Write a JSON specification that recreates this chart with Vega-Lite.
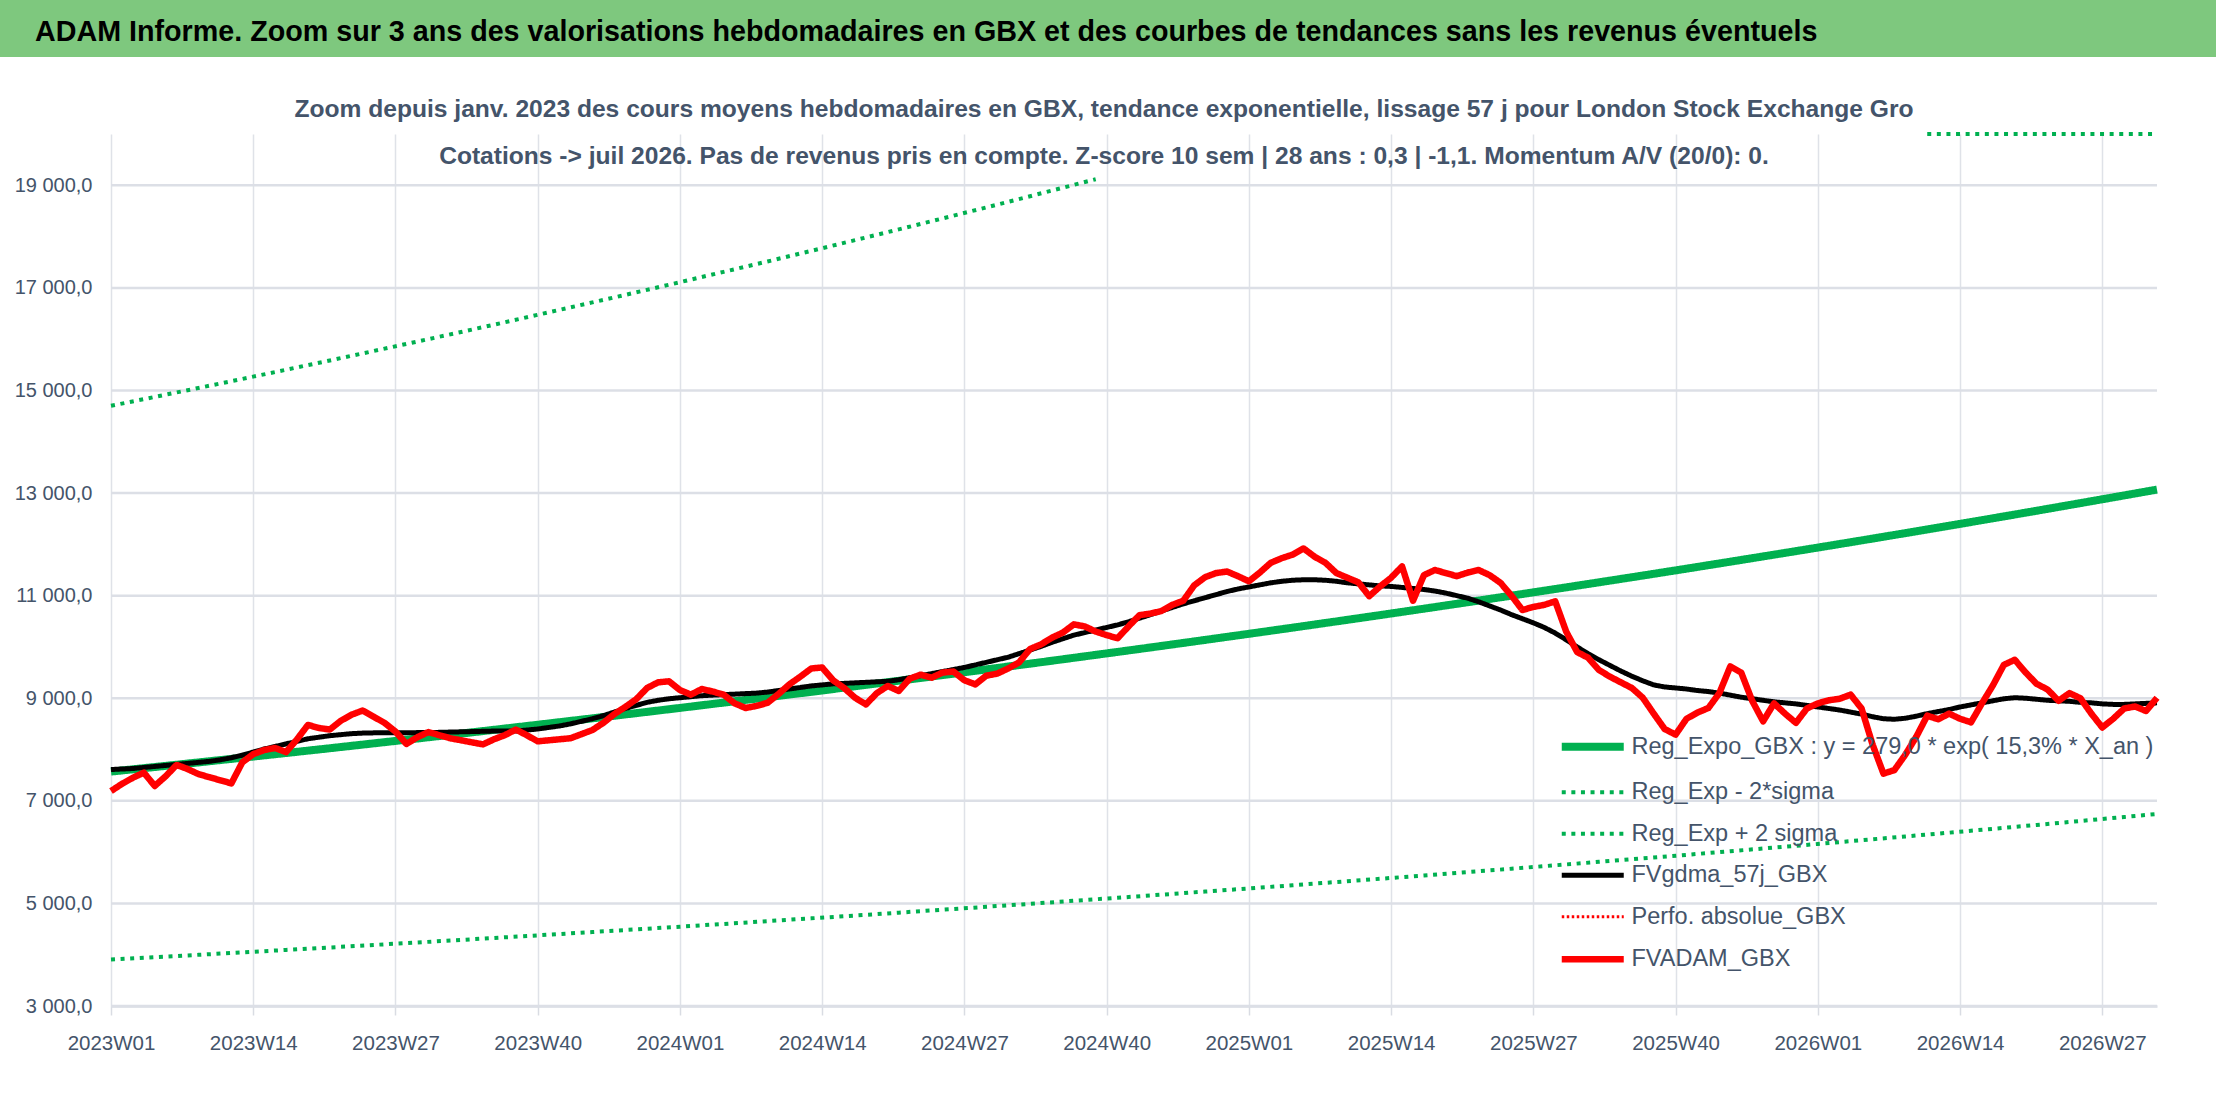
{
  "$schema": "https://vega.github.io/schema/vega-lite/v6.json",
  "background": "white",
  "padding": 0,
  "columns": 1,
  "spacing": 39,
  "config": {
    "view": {"stroke": null},
    "font": "Liberation Sans",
    "axisY": {"grid": false, "domain": false, "ticks": false, "labelPadding": 19, "labelFont": "Liberation Sans", "labelFontSize": 20, "labelColor": "#44546A"}
  },
  "datasets": {
    "d": [
      {"w":"2023W01","p":7190,"ma":7610,"t":7570,"lo":3906,"up":14701},
      {"w":"2023W02","p":7330,"ma":7620},
      {"w":"2023W03","p":7450,"ma":7630},
      {"w":"2023W04","p":7550,"ma":7650},
      {"w":"2023W05","p":7290,"ma":7670,"t":7659,"lo":3952,"up":14874},
      {"w":"2023W06","p":7480,"ma":7690},
      {"w":"2023W07","p":7700,"ma":7710},
      {"w":"2023W08","p":7620,"ma":7730},
      {"w":"2023W09","p":7520,"ma":7750,"t":7749,"lo":3998,"up":15049},
      {"w":"2023W10","p":7460,"ma":7770},
      {"w":"2023W11","p":7400,"ma":7800},
      {"w":"2023W12","p":7340,"ma":7840},
      {"w":"2023W13","p":7750,"ma":7890,"t":7840,"lo":4045,"up":15225},
      {"w":"2023W14","p":7910,"ma":7950},
      {"w":"2023W15","p":7990,"ma":8010},
      {"w":"2023W16","p":8030,"ma":8060},
      {"w":"2023W17","p":7950,"ma":8110,"t":7932,"lo":4093,"up":15404},
      {"w":"2023W18","p":8200,"ma":8160},
      {"w":"2023W19","p":8480,"ma":8210},
      {"w":"2023W20","p":8420,"ma":8240},
      {"w":"2023W21","p":8390,"ma":8270,"t":8025,"lo":4141,"up":15585},
      {"w":"2023W22","p":8560,"ma":8290},
      {"w":"2023W23","p":8680,"ma":8310},
      {"w":"2023W24","p":8760,"ma":8320},
      {"w":"2023W25","p":8640,"ma":8325,"t":8120,"lo":4190,"up":15769},
      {"w":"2023W26","p":8520,"ma":8325},
      {"w":"2023W27","p":8350,"ma":8325},
      {"w":"2023W28","p":8110,"ma":8325},
      {"w":"2023W29","p":8240,"ma":8330,"t":8215,"lo":4239,"up":15954},
      {"w":"2023W30","p":8340,"ma":8330},
      {"w":"2023W31","p":8280,"ma":8335},
      {"w":"2023W32","p":8220,"ma":8340},
      {"w":"2023W33","p":8180,"ma":8345,"t":8311,"lo":4288,"up":16140},
      {"w":"2023W34","p":8140,"ma":8350},
      {"w":"2023W35","p":8100,"ma":8355},
      {"w":"2023W36","p":8200,"ma":8360},
      {"w":"2023W37","p":8280,"ma":8360,"t":8409,"lo":4339,"up":16330},
      {"w":"2023W38","p":8390,"ma":8360},
      {"w":"2023W39","p":8280,"ma":8380},
      {"w":"2023W40","p":8160,"ma":8400},
      {"w":"2023W41","p":8180,"ma":8430,"t":8508,"lo":4390,"up":16523},
      {"w":"2023W42","p":8200,"ma":8460},
      {"w":"2023W43","p":8220,"ma":8500},
      {"w":"2023W44","p":8300,"ma":8550},
      {"w":"2023W45","p":8380,"ma":8600,"t":8608,"lo":4442,"up":16717},
      {"w":"2023W46","p":8520,"ma":8660},
      {"w":"2023W47","p":8690,"ma":8730},
      {"w":"2023W48","p":8830,"ma":8800},
      {"w":"2023W49","p":8980,"ma":8860,"t":8709,"lo":4494,"up":16913},
      {"w":"2023W50","p":9200,"ma":8920},
      {"w":"2023W51","p":9310,"ma":8960},
      {"w":"2023W52","p":9330,"ma":8990},
      {"w":"2024W01","p":9160,"ma":9010,"t":8811,"lo":4546,"up":17111},
      {"w":"2024W02","p":9070,"ma":9030},
      {"w":"2024W03","p":9180,"ma":9050},
      {"w":"2024W04","p":9130,"ma":9060},
      {"w":"2024W05","p":9070,"ma":9070,"t":8915,"lo":4600,"up":17313},
      {"w":"2024W06","p":8900,"ma":9080},
      {"w":"2024W07","p":8810,"ma":9090},
      {"w":"2024W08","p":8850,"ma":9100},
      {"w":"2024W09","p":8910,"ma":9120,"t":9019,"lo":4654,"up":17515},
      {"w":"2024W10","p":9080,"ma":9150},
      {"w":"2024W11","p":9270,"ma":9180},
      {"w":"2024W12","p":9420,"ma":9210},
      {"w":"2024W13","p":9580,"ma":9240,"t":9125,"lo":4709,"up":17721},
      {"w":"2024W14","p":9600,"ma":9260},
      {"w":"2024W15","p":9350,"ma":9280},
      {"w":"2024W16","p":9200,"ma":9290},
      {"w":"2024W17","p":9010,"ma":9300,"t":9233,"lo":4764,"up":17930},
      {"w":"2024W18","p":8880,"ma":9310},
      {"w":"2024W19","p":9100,"ma":9320},
      {"w":"2024W20","p":9240,"ma":9330},
      {"w":"2024W21","p":9140,"ma":9360,"t":9341,"lo":4820,"up":18140},
      {"w":"2024W22","p":9380,"ma":9400},
      {"w":"2024W23","p":9460,"ma":9440},
      {"w":"2024W24","p":9400,"ma":9480},
      {"w":"2024W25","p":9500,"ma":9520,"t":9451,"lo":4877,"up":18354},
      {"w":"2024W26","p":9520,"ma":9560},
      {"w":"2024W27","p":9350,"ma":9600},
      {"w":"2024W28","p":9270,"ma":9650},
      {"w":"2024W29","p":9440,"ma":9700,"t":9562,"lo":4934,"up":18569},
      {"w":"2024W30","p":9480,"ma":9750},
      {"w":"2024W31","p":9580,"ma":9800},
      {"w":"2024W32","p":9700,"ma":9870},
      {"w":"2024W33","p":9960,"ma":9940,"t":9674,"lo":4992,"up":18787},
      {"w":"2024W34","p":10050,"ma":10010},
      {"w":"2024W35","p":10180,"ma":10090},
      {"w":"2024W36","p":10280,"ma":10160},
      {"w":"2024W37","p":10440,"ma":10230,"t":9788,"lo":5051,"up":19008},
      {"w":"2024W38","p":10400,"ma":10280},
      {"w":"2024W39","p":10300,"ma":10330,"up":19119},
      {"w":"2024W40","p":10230,"ma":10380},
      {"w":"2024W41","p":10170,"ma":10430,"t":9903,"lo":5110},
      {"w":"2024W42","p":10400,"ma":10490},
      {"w":"2024W43","p":10620,"ma":10560},
      {"w":"2024W44","p":10650,"ma":10630},
      {"w":"2024W45","p":10700,"ma":10700,"t":10019,"lo":5170},
      {"w":"2024W46","p":10820,"ma":10770},
      {"w":"2024W47","p":10900,"ma":10840},
      {"w":"2024W48","p":11200,"ma":10900},
      {"w":"2024W49","p":11360,"ma":10960,"t":10137,"lo":5231},
      {"w":"2024W50","p":11440,"ma":11020},
      {"w":"2024W51","p":11470,"ma":11080},
      {"w":"2024W52","p":11380,"ma":11130},
      {"w":"2025W01","p":11280,"ma":11170,"t":10256,"lo":5292},
      {"w":"2025W02","p":11450,"ma":11210},
      {"w":"2025W03","p":11640,"ma":11250},
      {"w":"2025W04","p":11730,"ma":11280},
      {"w":"2025W05","p":11800,"ma":11300,"t":10376,"lo":5354},
      {"w":"2025W06","p":11920,"ma":11310},
      {"w":"2025W07","p":11760,"ma":11310},
      {"w":"2025W08","p":11640,"ma":11300},
      {"w":"2025W09","p":11440,"ma":11280,"t":10498,"lo":5417},
      {"w":"2025W10","p":11350,"ma":11250},
      {"w":"2025W11","p":11260,"ma":11230},
      {"w":"2025W12","p":10990,"ma":11210},
      {"w":"2025W13","p":11180,"ma":11190,"t":10621,"lo":5480},
      {"w":"2025W14","p":11350,"ma":11180},
      {"w":"2025W15","p":11570,"ma":11160},
      {"w":"2025W16","p":10900,"ma":11140},
      {"w":"2025W17","p":11400,"ma":11120,"t":10746,"lo":5545},
      {"w":"2025W18","p":11500,"ma":11090},
      {"w":"2025W19","p":11440,"ma":11050},
      {"w":"2025W20","p":11380,"ma":11000},
      {"w":"2025W21","p":11450,"ma":10950,"t":10872,"lo":5610},
      {"w":"2025W22","p":11500,"ma":10880},
      {"w":"2025W23","p":11400,"ma":10800},
      {"w":"2025W24","p":11250,"ma":10720},
      {"w":"2025W25","p":11000,"ma":10630,"t":11000,"lo":5676},
      {"w":"2025W26","p":10720,"ma":10550},
      {"w":"2025W27","p":10780,"ma":10470},
      {"w":"2025W28","p":10820,"ma":10380},
      {"w":"2025W29","p":10890,"ma":10270,"t":11129,"lo":5743},
      {"w":"2025W30","p":10300,"ma":10140},
      {"w":"2025W31","p":9900,"ma":10000},
      {"w":"2025W32","p":9790,"ma":9870},
      {"w":"2025W33","p":9550,"ma":9750,"t":11260,"lo":5810},
      {"w":"2025W34","p":9420,"ma":9640},
      {"w":"2025W35","p":9310,"ma":9530},
      {"w":"2025W36","p":9200,"ma":9430},
      {"w":"2025W37","p":9010,"ma":9340,"t":11392,"lo":5878},
      {"w":"2025W38","p":8700,"ma":9260},
      {"w":"2025W39","p":8400,"ma":9220},
      {"w":"2025W40","p":8290,"ma":9200},
      {"w":"2025W41","p":8600,"ma":9180,"t":11526,"lo":5947},
      {"w":"2025W42","p":8720,"ma":9150},
      {"w":"2025W43","p":8810,"ma":9130},
      {"w":"2025W44","p":9100,"ma":9100},
      {"w":"2025W45","p":9620,"ma":9060,"t":11662,"lo":6018},
      {"w":"2025W46","p":9500,"ma":9020},
      {"w":"2025W47","p":8950,"ma":8990},
      {"w":"2025W48","p":8550,"ma":8960},
      {"w":"2025W49","p":8900,"ma":8930,"t":11799,"lo":6088},
      {"w":"2025W50","p":8700,"ma":8910},
      {"w":"2025W51","p":8520,"ma":8890},
      {"w":"2025W52","p":8800,"ma":8860},
      {"w":"2026W01","p":8900,"ma":8830,"t":11937,"lo":6159},
      {"w":"2026W02","p":8960,"ma":8800},
      {"w":"2026W03","p":8990,"ma":8770},
      {"w":"2026W04","p":9070,"ma":8730},
      {"w":"2026W05","p":8800,"ma":8690,"t":12077,"lo":6232},
      {"w":"2026W06","p":8100,"ma":8640},
      {"w":"2026W07","p":7530,"ma":8600},
      {"w":"2026W08","p":7600,"ma":8590},
      {"w":"2026W09","p":7900,"ma":8610,"t":12219,"lo":6305},
      {"w":"2026W10","p":8250,"ma":8650},
      {"w":"2026W11","p":8660,"ma":8700,"up2":20000},
      {"w":"2026W12","p":8590,"ma":8740},
      {"w":"2026W13","p":8700,"ma":8780,"t":12363,"lo":6379},
      {"w":"2026W14","p":8600,"ma":8830},
      {"w":"2026W15","p":8530,"ma":8870},
      {"w":"2026W16","p":8900,"ma":8910},
      {"w":"2026W17","p":9250,"ma":8950,"t":12508,"lo":6454},
      {"w":"2026W18","p":9650,"ma":8990},
      {"w":"2026W19","p":9750,"ma":9010},
      {"w":"2026W20","p":9500,"ma":9000},
      {"w":"2026W21","p":9280,"ma":8980,"t":12655,"lo":6530},
      {"w":"2026W22","p":9170,"ma":8960},
      {"w":"2026W23","p":8950,"ma":8950},
      {"w":"2026W24","p":9100,"ma":8940},
      {"w":"2026W25","p":9000,"ma":8920,"t":12804,"lo":6607},
      {"w":"2026W26","p":8700,"ma":8910},
      {"w":"2026W27","p":8430,"ma":8890},
      {"w":"2026W28","p":8600,"ma":8880},
      {"w":"2026W29","p":8800,"ma":8880,"t":12954,"lo":6684},
      {"w":"2026W30","p":8840,"ma":8890},
      {"w":"2026W31","p":8750,"ma":8900},
      {"w":"2026W32","p":9010,"ma":8910,"t":13068,"lo":6743,"up2":20000}
    ]
  },
  "concat": [
    {
      "width": 2216,
      "height": 57,
      "data": {"values": [{"bandeau": "titre"}]},
      "mark": {"type": "rect", "color": "#7EC87E"},
      "title": {
        "text": "ADAM Informe. Zoom sur 3 ans des valorisations hebdomadaires en GBX et des courbes de tendances sans les revenus éventuels",
        "anchor": "start",
        "frame": "group",
        "offset": -47,
        "dx": 35,
        "font": "Liberation Sans",
        "fontSize": 28.7,
        "fontWeight": "bold",
        "color": "#000000"
      }
    },
    {
      "width": 2216,
      "height": 872,
      "data": {"name": "d"},
      "title": {
        "text": [
          "Zoom depuis janv. 2023 des cours moyens hebdomadaires en GBX, tendance exponentielle, lissage 57 j pour London Stock Exchange Gro",
          "Cotations -> juil 2026. Pas de revenus pris en compte. Z-score 10 sem | 28 ans : 0,3 | -1,1. Momentum A/V (20/0): 0."
        ],
        "anchor": "middle",
        "frame": "group",
        "offset": -43.5,
        "dx": -4,
        "lineHeight": 47,
        "font": "Liberation Sans",
        "fontSize": 24.6,
        "fontWeight": "bold",
        "color": "#44546A"
      },
      "encoding": {
        "x": {
          "field": "w",
          "type": "ordinal",
          "scale": {"type": "point", "padding": 0, "range": [111, 2157]},
          "axis": {
            "values": ["2023W01","2023W14","2023W27","2023W40","2024W01","2024W14","2024W27","2024W40","2025W01","2025W14","2025W27","2025W40","2026W01","2026W14","2026W27"],
            "title": null,
            "grid": true,
            "gridColor": "#DFE2E8",
            "gridWidth": 1.5,
            "domain": true,
            "domainColor": "#D9DCE3",
            "domainWidth": 2.5,
            "ticks": true,
            "tickSize": 9,
            "tickColor": "#D9DCE3",
            "tickWidth": 1.5,
            "labelAngle": 0,
            "labelPadding": 18,
            "labelDx": 16,
            "labelOverlap": false,
            "labelFont": "Liberation Sans",
            "labelFontSize": 20.5,
            "labelColor": "#44546A"
          }
        }
      },
      "layer": [
        {
          "data": {"values": [{"g": 3000}, {"g": 5000}, {"g": 7000}, {"g": 9000}, {"g": 11000}, {"g": 13000}, {"g": 15000}, {"g": 17000}, {"g": 19000}]},
          "mark": {"type": "rule", "color": "#DCDFE6", "strokeWidth": 2.5},
          "encoding": {
            "y": {"field": "g", "type": "quantitative", "scale": {"domain": [3000, 20000], "nice": false, "zero": false},
              "axis": {"values": [3000, 5000, 7000, 9000, 11000, 13000, 15000, 17000, 19000], "title": null, "offset": -111, "labelExpr": "replace(replace(format(datum.value, ',.1f'), ',', ' '), '.', ',')"}},
            "x": {"datum": "2023W01"},
            "x2": {"datum": "2026W32"}
          }
        },
        {
          "mark": {"type": "line", "invalid": "filter", "strokeWidth": 8, "strokeJoin": "round"},
          "encoding": {
            "y": {"field": "t", "type": "quantitative", "scale": {"domain": [3000, 20000], "nice": false, "zero": false},
              "axis": {"values": [3000, 5000, 7000, 9000, 11000, 13000, 15000, 17000, 19000], "title": null, "offset": -111, "labelExpr": "replace(replace(format(datum.value, ',.1f'), ',', ' '), '.', ',')"}},
            "color": {"datum": "Reg_Expo_GBX : y = 279,0 * exp( 15,3% *  X_an )", "type": "nominal",
              "scale": {"domain": ["Reg_Expo_GBX : y = 279,0 * exp( 15,3% *  X_an )", "Reg_Exp - 2*sigma", "Reg_Exp + 2 sigma", "FVgdma_57j_GBX", "Perfo. absolue_GBX", "FVADAM_GBX"], "range": ["#00B050", "#00B050", "#00B050", "#000000", "#FF0000", "#FF0000"]},
              "legend": {
                "title": null, "orient": "none", "legendX": 1581, "legendY": 735,
                "symbolType": "M-1.55,0H1.55", "symbolSize": 1600, "labelOffset": 27, "rowPadding": 16.5,
                "labelFont": "Liberation Sans", "labelFontSize": 23.5, "labelColor": "#44546A", "labelLimit": 800,
                "encode": {"symbols": {"update": {"strokeWidth": {"signal": "datum.value == 'Reg_Expo_GBX : y = 279,0 * exp( 15,3% *  X_an )' ? 8 : datum.value == 'FVADAM_GBX' ? 6.5 : datum.value == 'FVgdma_57j_GBX' ? 5 : datum.value == 'Perfo. absolue_GBX' ? 3 : 4"}}}}
              }},
            "strokeDash": {"datum": "Reg_Expo_GBX : y = 279,0 * exp( 15,3% *  X_an )", "type": "nominal",
              "scale": {"domain": ["Reg_Expo_GBX : y = 279,0 * exp( 15,3% *  X_an )", "Reg_Exp - 2*sigma", "Reg_Exp + 2 sigma", "FVgdma_57j_GBX", "Perfo. absolue_GBX", "FVADAM_GBX"], "range": [[1, 0], [4, 5.6], [4, 5.6], [1, 0], [2.5, 2.5], [1, 0]]},
              "legend": {
                "title": null, "orient": "none", "legendX": 1581, "legendY": 735,
                "symbolType": "M-1.55,0H1.55", "symbolSize": 1600, "labelOffset": 27, "rowPadding": 16.5,
                "labelFont": "Liberation Sans", "labelFontSize": 23.5, "labelColor": "#44546A", "labelLimit": 800
              }}
          }
        },
        {
          "mark": {"type": "line", "invalid": "filter", "strokeWidth": 4},
          "encoding": {
            "y": {"field": "lo", "type": "quantitative", "scale": {"domain": [3000, 20000], "nice": false, "zero": false},
              "axis": {"values": [3000, 5000, 7000, 9000, 11000, 13000, 15000, 17000, 19000], "title": null, "offset": -111, "labelExpr": "replace(replace(format(datum.value, ',.1f'), ',', ' '), '.', ',')"}},
            "color": {"datum": "Reg_Exp - 2*sigma", "type": "nominal", "scale": {"domain": ["Reg_Expo_GBX : y = 279,0 * exp( 15,3% *  X_an )", "Reg_Exp - 2*sigma", "Reg_Exp + 2 sigma", "FVgdma_57j_GBX", "Perfo. absolue_GBX", "FVADAM_GBX"], "range": ["#00B050", "#00B050", "#00B050", "#000000", "#FF0000", "#FF0000"]}},
            "strokeDash": {"datum": "Reg_Exp - 2*sigma", "type": "nominal", "scale": {"domain": ["Reg_Expo_GBX : y = 279,0 * exp( 15,3% *  X_an )", "Reg_Exp - 2*sigma", "Reg_Exp + 2 sigma", "FVgdma_57j_GBX", "Perfo. absolue_GBX", "FVADAM_GBX"], "range": [[1, 0], [4, 5.6], [4, 5.6], [1, 0], [2.5, 2.5], [1, 0]]}}
          }
        },
        {
          "mark": {"type": "line", "invalid": "filter", "strokeWidth": 4},
          "encoding": {
            "y": {"field": "up", "type": "quantitative", "scale": {"domain": [3000, 20000], "nice": false, "zero": false},
              "axis": {"values": [3000, 5000, 7000, 9000, 11000, 13000, 15000, 17000, 19000], "title": null, "offset": -111, "labelExpr": "replace(replace(format(datum.value, ',.1f'), ',', ' '), '.', ',')"}},
            "color": {"datum": "Reg_Exp + 2 sigma", "type": "nominal", "scale": {"domain": ["Reg_Expo_GBX : y = 279,0 * exp( 15,3% *  X_an )", "Reg_Exp - 2*sigma", "Reg_Exp + 2 sigma", "FVgdma_57j_GBX", "Perfo. absolue_GBX", "FVADAM_GBX"], "range": ["#00B050", "#00B050", "#00B050", "#000000", "#FF0000", "#FF0000"]}},
            "strokeDash": {"datum": "Reg_Exp + 2 sigma", "type": "nominal", "scale": {"domain": ["Reg_Expo_GBX : y = 279,0 * exp( 15,3% *  X_an )", "Reg_Exp - 2*sigma", "Reg_Exp + 2 sigma", "FVgdma_57j_GBX", "Perfo. absolue_GBX", "FVADAM_GBX"], "range": [[1, 0], [4, 5.6], [4, 5.6], [1, 0], [2.5, 2.5], [1, 0]]}}
          }
        },
        {
          "mark": {"type": "line", "invalid": "filter", "strokeWidth": 4},
          "encoding": {
            "y": {"field": "up2", "type": "quantitative", "scale": {"domain": [3000, 20000], "nice": false, "zero": false},
              "axis": {"values": [3000, 5000, 7000, 9000, 11000, 13000, 15000, 17000, 19000], "title": null, "offset": -111, "labelExpr": "replace(replace(format(datum.value, ',.1f'), ',', ' '), '.', ',')"}},
            "color": {"datum": "Reg_Exp + 2 sigma", "type": "nominal", "scale": {"domain": ["Reg_Expo_GBX : y = 279,0 * exp( 15,3% *  X_an )", "Reg_Exp - 2*sigma", "Reg_Exp + 2 sigma", "FVgdma_57j_GBX", "Perfo. absolue_GBX", "FVADAM_GBX"], "range": ["#00B050", "#00B050", "#00B050", "#000000", "#FF0000", "#FF0000"]}},
            "strokeDash": {"datum": "Reg_Exp + 2 sigma", "type": "nominal", "scale": {"domain": ["Reg_Expo_GBX : y = 279,0 * exp( 15,3% *  X_an )", "Reg_Exp - 2*sigma", "Reg_Exp + 2 sigma", "FVgdma_57j_GBX", "Perfo. absolue_GBX", "FVADAM_GBX"], "range": [[1, 0], [4, 5.6], [4, 5.6], [1, 0], [2.5, 2.5], [1, 0]]}}
          }
        },
        {
          "mark": {"type": "line", "invalid": "filter", "strokeWidth": 5, "strokeJoin": "round"},
          "encoding": {
            "y": {"field": "ma", "type": "quantitative", "scale": {"domain": [3000, 20000], "nice": false, "zero": false},
              "axis": {"values": [3000, 5000, 7000, 9000, 11000, 13000, 15000, 17000, 19000], "title": null, "offset": -111, "labelExpr": "replace(replace(format(datum.value, ',.1f'), ',', ' '), '.', ',')"}},
            "color": {"datum": "FVgdma_57j_GBX", "type": "nominal", "scale": {"domain": ["Reg_Expo_GBX : y = 279,0 * exp( 15,3% *  X_an )", "Reg_Exp - 2*sigma", "Reg_Exp + 2 sigma", "FVgdma_57j_GBX", "Perfo. absolue_GBX", "FVADAM_GBX"], "range": ["#00B050", "#00B050", "#00B050", "#000000", "#FF0000", "#FF0000"]}},
            "strokeDash": {"datum": "FVgdma_57j_GBX", "type": "nominal", "scale": {"domain": ["Reg_Expo_GBX : y = 279,0 * exp( 15,3% *  X_an )", "Reg_Exp - 2*sigma", "Reg_Exp + 2 sigma", "FVgdma_57j_GBX", "Perfo. absolue_GBX", "FVADAM_GBX"], "range": [[1, 0], [4, 5.6], [4, 5.6], [1, 0], [2.5, 2.5], [1, 0]]}}
          }
        },
        {
          "mark": {"type": "line", "invalid": "filter", "strokeWidth": 6.5, "strokeJoin": "round"},
          "encoding": {
            "y": {"field": "p", "type": "quantitative", "scale": {"domain": [3000, 20000], "nice": false, "zero": false},
              "axis": {"values": [3000, 5000, 7000, 9000, 11000, 13000, 15000, 17000, 19000], "title": null, "offset": -111, "labelExpr": "replace(replace(format(datum.value, ',.1f'), ',', ' '), '.', ',')"}},
            "color": {"datum": "FVADAM_GBX", "type": "nominal", "scale": {"domain": ["Reg_Expo_GBX : y = 279,0 * exp( 15,3% *  X_an )", "Reg_Exp - 2*sigma", "Reg_Exp + 2 sigma", "FVgdma_57j_GBX", "Perfo. absolue_GBX", "FVADAM_GBX"], "range": ["#00B050", "#00B050", "#00B050", "#000000", "#FF0000", "#FF0000"]}},
            "strokeDash": {"datum": "FVADAM_GBX", "type": "nominal", "scale": {"domain": ["Reg_Expo_GBX : y = 279,0 * exp( 15,3% *  X_an )", "Reg_Exp - 2*sigma", "Reg_Exp + 2 sigma", "FVgdma_57j_GBX", "Perfo. absolue_GBX", "FVADAM_GBX"], "range": [[1, 0], [4, 5.6], [4, 5.6], [1, 0], [2.5, 2.5], [1, 0]]}}
          }
        }
      ]
    }
  ]
}
